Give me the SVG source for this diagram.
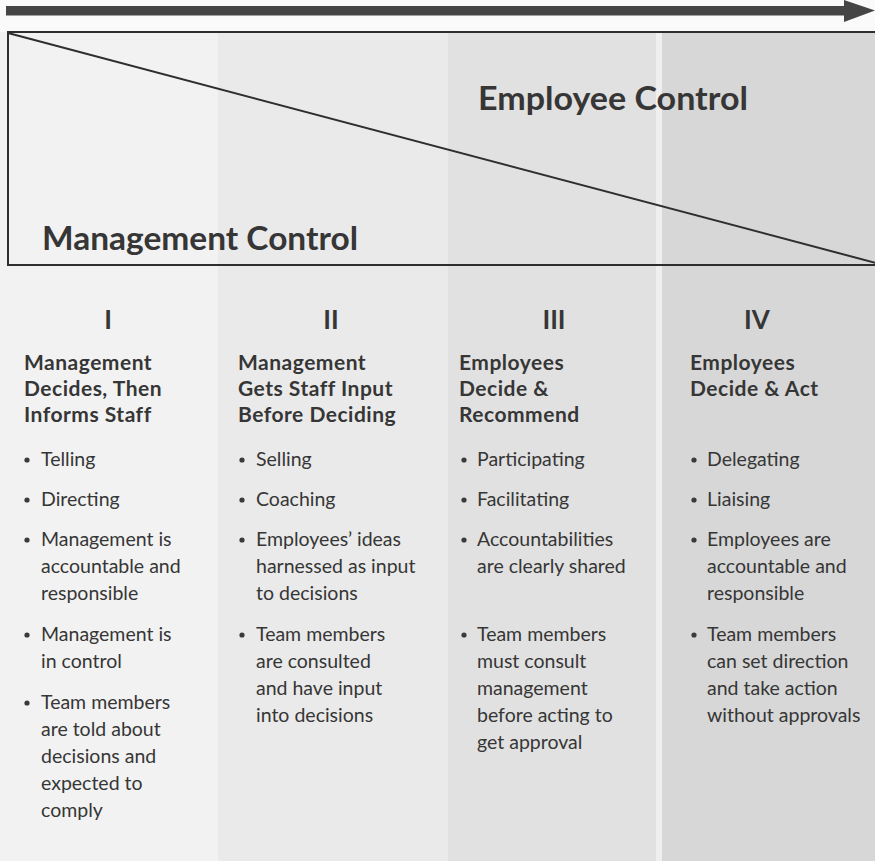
<svg xmlns="http://www.w3.org/2000/svg" width="875" height="861" viewBox="0 0 875 861">
<style>
  text { font-family: Lato, "Open Sans", "Liberation Sans", sans-serif; fill: #363636; }
  .big { font-size: 32px; font-weight: bold; }
  .num { font-size: 26px; font-weight: bold; text-anchor: middle; }
  .head { font-size: 21px; font-weight: bold; letter-spacing: 0.5px; }
  .body { font-size: 19.5px; }
  .dot { fill: #3a3a3a; }
  .rule { stroke: #2e2e2e; stroke-width: 2; fill: none; }
</style>
<defs>
  <circle id="b" r="2.6" class="dot"/>
</defs>
<rect x="0" y="0" width="875" height="861" fill="#fafafa"/>
<g id="columns">
  <rect x="0" y="32" width="218" height="829" fill="#f2f2f2"/>
  <rect x="218" y="32" width="230" height="829" fill="#eaeaea"/>
  <rect x="448" y="32" width="208" height="829" fill="#e1e1e1"/>
  <rect x="656" y="32" width="6" height="829" fill="#efefef"/>
  <rect x="662" y="32" width="213" height="829" fill="#d7d7d7"/>
</g>
<g id="arrow">
  <rect x="6" y="6" width="842" height="9.5" fill="#454545"/>
  <polygon points="844,0 875,10.5 844,22" fill="#454545"/>
</g>
<g id="control-box">
  <polyline class="rule" points="876,32 8,32 8,265 876,265"/>
  <line class="rule" x1="8" y1="33" x2="876" y2="263"/>
  <text class="big" x="478" y="110" textLength="270" lengthAdjust="spacingAndGlyphs">Employee Control</text>
  <text class="big" x="42" y="250" textLength="316" lengthAdjust="spacingAndGlyphs">Management Control</text>
</g>
<g id="col-I">
  <text class="num" x="108" y="329">I</text>
  <text class="head" x="24" y="370">Management</text>
  <text class="head" x="24" y="396">Decides, Then</text>
  <text class="head" x="24" y="422">Informs Staff</text>
  <use href="#b" x="27" y="460"/><text class="body" x="41" y="466">Telling</text>
  <use href="#b" x="27" y="500"/><text class="body" x="41" y="506">Directing</text>
  <use href="#b" x="27" y="540"/><text class="body" x="41" y="546">Management is</text>
  <text class="body" x="41" y="573">accountable and</text>
  <text class="body" x="41" y="600">responsible</text>
  <use href="#b" x="27" y="635"/><text class="body" x="41" y="641">Management is</text>
  <text class="body" x="41" y="668">in control</text>
  <use href="#b" x="27" y="703"/><text class="body" x="41" y="709">Team members</text>
  <text class="body" x="41" y="736">are told about</text>
  <text class="body" x="41" y="763">decisions and</text>
  <text class="body" x="41" y="790">expected to</text>
  <text class="body" x="41" y="817">comply</text>
</g>
<g id="col-II">
  <text class="num" x="331" y="329">II</text>
  <text class="head" x="238" y="370">Management</text>
  <text class="head" x="238" y="396">Gets Staff Input</text>
  <text class="head" x="238" y="422">Before Deciding</text>
  <use href="#b" x="242" y="460"/><text class="body" x="256" y="466">Selling</text>
  <use href="#b" x="242" y="500"/><text class="body" x="256" y="506">Coaching</text>
  <use href="#b" x="242" y="540"/><text class="body" x="256" y="546">Employees’ ideas</text>
  <text class="body" x="256" y="573">harnessed as input</text>
  <text class="body" x="256" y="600">to decisions</text>
  <use href="#b" x="242" y="635"/><text class="body" x="256" y="641">Team members</text>
  <text class="body" x="256" y="668">are consulted</text>
  <text class="body" x="256" y="695">and have input</text>
  <text class="body" x="256" y="722">into decisions</text>
</g>
<g id="col-III">
  <text class="num" x="554" y="329">III</text>
  <text class="head" x="459" y="370">Employees</text>
  <text class="head" x="459" y="396">Decide &amp;</text>
  <text class="head" x="459" y="422">Recommend</text>
  <use href="#b" x="464" y="460"/><text class="body" x="477" y="466">Participating</text>
  <use href="#b" x="464" y="500"/><text class="body" x="477" y="506">Facilitating</text>
  <use href="#b" x="464" y="540"/><text class="body" x="477" y="546">Accountabilities</text>
  <text class="body" x="477" y="573">are clearly shared</text>
  <use href="#b" x="464" y="635"/><text class="body" x="477" y="641">Team members</text>
  <text class="body" x="477" y="668">must consult</text>
  <text class="body" x="477" y="695">management</text>
  <text class="body" x="477" y="722">before acting to</text>
  <text class="body" x="477" y="749">get approval</text>
</g>
<g id="col-IV">
  <text class="num" x="757" y="329">IV</text>
  <text class="head" x="690" y="370">Employees</text>
  <text class="head" x="690" y="396">Decide &amp; Act</text>
  <use href="#b" x="694" y="460"/><text class="body" x="707" y="466">Delegating</text>
  <use href="#b" x="694" y="500"/><text class="body" x="707" y="506">Liaising</text>
  <use href="#b" x="694" y="540"/><text class="body" x="707" y="546">Employees are</text>
  <text class="body" x="707" y="573">accountable and</text>
  <text class="body" x="707" y="600">responsible</text>
  <use href="#b" x="694" y="635"/><text class="body" x="707" y="641">Team members</text>
  <text class="body" x="707" y="668">can set direction</text>
  <text class="body" x="707" y="695">and take action</text>
  <text class="body" x="707" y="722">without approvals</text>
</g>
</svg>
